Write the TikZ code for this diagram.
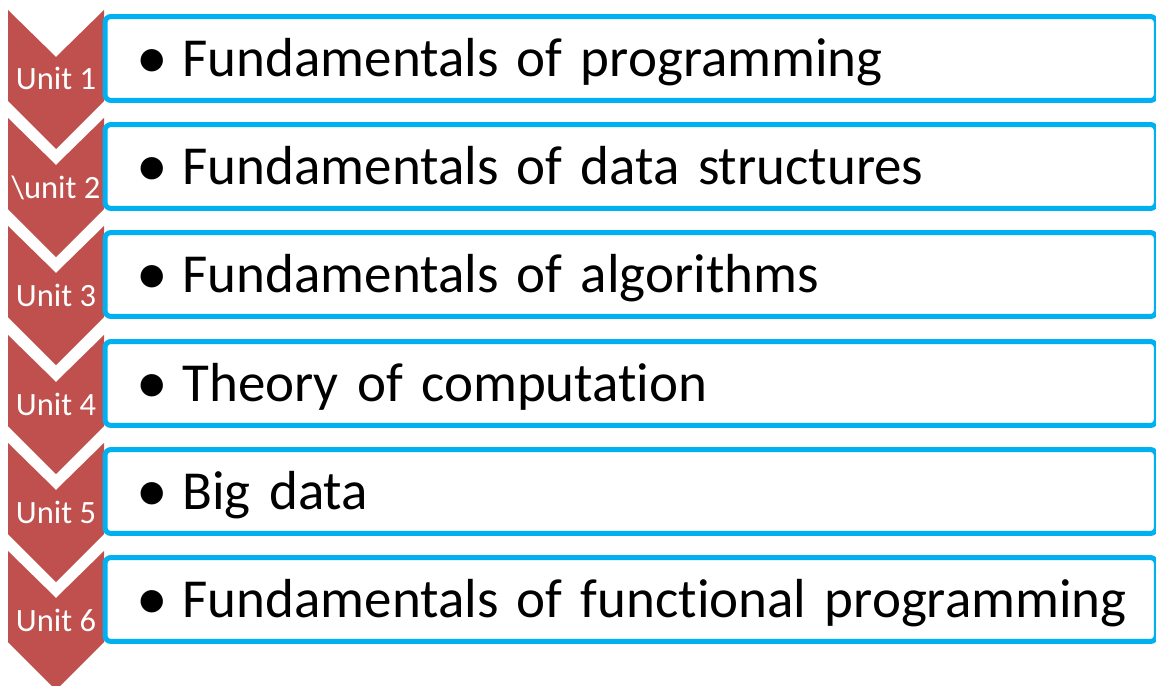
\documentclass[tikz,border=0pt]{standalone}
\usepackage{fontspec}
\setmainfont{Carlito}[Ligatures={NoCommon,NoRare}]
\definecolor{unitred}{RGB}{192,80,77}
\definecolor{topicblue}{RGB}{0,176,240}
\newcommand{\topicline}[1]{\mbox{\makebox[0.96cm][l]{\hspace{0.04cm}\raisebox{-0.05cm}{\scalebox{1.15}{•}}}#1}}

\begin{document}
\begin{tikzpicture}[x=0.02cm, y=-0.02cm,
  unitarrow/.style={fill=unitred},
  unitlabel/.style={text=white, anchor=base, inner sep=0pt, font=\fontsize{18.5}{21}\selectfont},
  topicbox/.style={draw=topicblue, line width=0.1cm, fill=white, rounded corners=0.12cm,
    anchor=west, minimum width=21.03cm, minimum height=1.68cm, inner xsep=0.59cm,
    text width=19.85cm, align=left, text height=20.2pt, text depth=0pt,
    font=\fontsize{31.3}{36}\selectfont}]
\useasboundingbox (0,0) rectangle (1156,686);

% Units
\fill[unitarrow] (8,10) -- (56,57) -- (104,10) -- (104,101) -- (56,149) -- (8,101) -- cycle;
\fill[unitarrow] (8,118) -- (56,165) -- (104,118) -- (104,209) -- (56,257) -- (8,209) -- cycle;
\fill[unitarrow] (8,226) -- (56,273) -- (104,226) -- (104,317) -- (56,365) -- (8,317) -- cycle;
\fill[unitarrow] (8,335) -- (56,382) -- (104,335) -- (104,426) -- (56,474) -- (8,426) -- cycle;
\fill[unitarrow] (8,443) -- (56,490) -- (104,443) -- (104,534) -- (56,582) -- (8,534) -- cycle;
\fill[unitarrow] (8,551) -- (56,598) -- (104,551) -- (104,642) -- (56,690) -- (8,642) -- cycle;

\node[unitlabel] (u1) at (56,90) {Unit 1};
\node[unitlabel] (u2) at (56,198) {\textbackslash unit 2};
\node[unitlabel] (u3) at (56,306) {Unit 3};
\node[unitlabel] (u4) at (56,415) {Unit 4};
\node[unitlabel] (u5) at (56,523) {Unit 5};
\node[unitlabel] (u6) at (56,631) {Unit 6};

% Topics
\node[topicbox] (t1) at (102.5,58.5) {\topicline{Fundamentals of programming}};
\node[topicbox] (t2) at (102.5,166.5) {\topicline{Fundamentals of data structures}};
\node[topicbox] (t3) at (102.5,274.5) {\topicline{Fundamentals of algorithms}};
\node[topicbox] (t4) at (102.5,383.5) {\topicline{Theory of computation}};
\node[topicbox] (t5) at (102.5,491.5) {\topicline{Big data}};
\node[topicbox] (t6) at (102.5,599.5) {\topicline{Fundamentals of functional programming}};
\end{tikzpicture}
\end{document}
